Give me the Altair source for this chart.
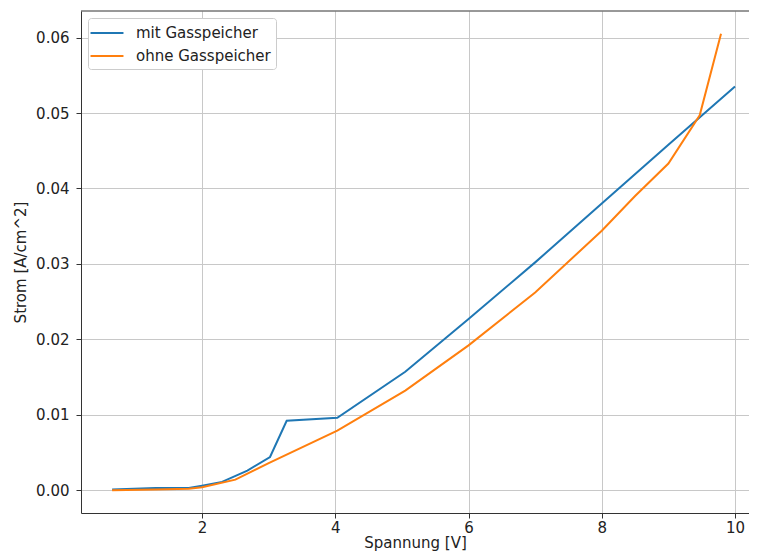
import altair as alt
import pandas as pd

# Series
mit_x = [0.65, 1.3, 1.8, 2.0, 2.3, 2.68, 3.02, 3.27, 4.03, 5.05, 6.0, 7.0, 8.0, 9.0, 10.0]
mit_y = [0.0001, 0.0003, 0.0003, 0.0006, 0.0011, 0.0026, 0.0044, 0.0092, 0.0096,
         0.0157, 0.0227, 0.0302, 0.0380, 0.0458, 0.0535]
ohne_x = [0.65, 1.3, 1.8, 2.0, 2.5, 3.0, 4.03, 5.05, 6.0, 7.0, 8.0, 8.5, 9.0, 9.47, 9.79]
ohne_y = [0.0, 0.0001, 0.0002, 0.0004, 0.0014, 0.0036, 0.0079, 0.0132, 0.0192,
          0.0262, 0.0344, 0.0390, 0.0433, 0.0497, 0.0605]
series_names = ["mit Gasspeicher", "ohne Gasspeicher"]
series_colors = ["#1f77b4", "#ff7f0e"]
x_ticks = [2, 4, 6, 8, 10]
y_ticks = [0.0, 0.01, 0.02, 0.03, 0.04, 0.05, 0.06]

rows = []
for i, (xs, ys) in enumerate([(mit_x, mit_y), (ohne_x, ohne_y)]):
    for k, (a, b) in enumerate(zip(xs, ys)):
        rows.append({"Spannung": a, "Strom": b, "Serie": series_names[i], "idx": k})
df = pd.DataFrame(rows)

# matplotlib-like 5% margins (right side cropped as in the reference picture)
xmin, xmax = 0.65, 10.0
ymin, ymax = 0.0, 0.0605
xd = [xmin - 0.05 * (xmax - xmin), 10.21]
yd = [ymin - 0.05 * (ymax - ymin), ymax + 0.05 * (ymax - ymin)]

FONT = "DejaVu Sans"
W, H = 668, 502

lines = alt.Chart(df).mark_line(strokeWidth=2, clip=True).encode(
    x=alt.X("Spannung:Q", title="Spannung [V]",
            scale=alt.Scale(domain=xd, nice=False, zero=False),
            axis=alt.Axis(values=x_ticks, format="d", grid=True)),
    y=alt.Y("Strom:Q", title="Strom [A/cm^2]",
            scale=alt.Scale(domain=yd, nice=False, zero=False),
            axis=alt.Axis(values=y_ticks, format=".2f", grid=True)),
    color=alt.Color("Serie:N",
                    scale=alt.Scale(domain=series_names, range=series_colors),
                    legend=alt.Legend(title=None, orient="top-left", offset=7,
                                      symbolType="M-1.83,0L1.83,0", symbolSize=324,
                                      symbolStrokeWidth=2, symbolOffset=4,
                                      symbolFillColor="transparent",
                                      labelFontSize=15,
                                      labelFont=FONT, labelColor="#222",
                                      fillColor="white", strokeColor="#cccccc",
                                      cornerRadius=3, padding=5, rowPadding=5,
                                      labelOffset=19)),
    order="idx:Q",
)

top_frame = alt.Chart(pd.DataFrame({"f": [0]})).mark_rule(
    color="#333333", strokeWidth=1
).encode(x=alt.value(0), x2=alt.value(W), y=alt.value(0))

chart = alt.layer(lines, top_frame).properties(
    width=W, height=H,
    autosize=alt.AutoSizeParams(type="none"),
    padding={"left": 73, "top": 3, "right": 0, "bottom": 38},
).configure_view(
    stroke=None
).configure_axis(
    labelFont=FONT, titleFont=FONT, labelFontSize=15, titleFontSize=15,
    titleFontWeight="normal", labelColor="#222", titleColor="#222",
    domainColor="#333333", tickColor="#333333", tickSize=5, domainWidth=1,
    gridColor="#c8c8c8", gridWidth=1,
).configure_axisX(
    labelPadding=2, titlePadding=0,
).configure_axisY(
    labelPadding=7, titlePadding=7,
)

chart.save("out.html", embed_options={"renderer": "svg", "actions": False})
